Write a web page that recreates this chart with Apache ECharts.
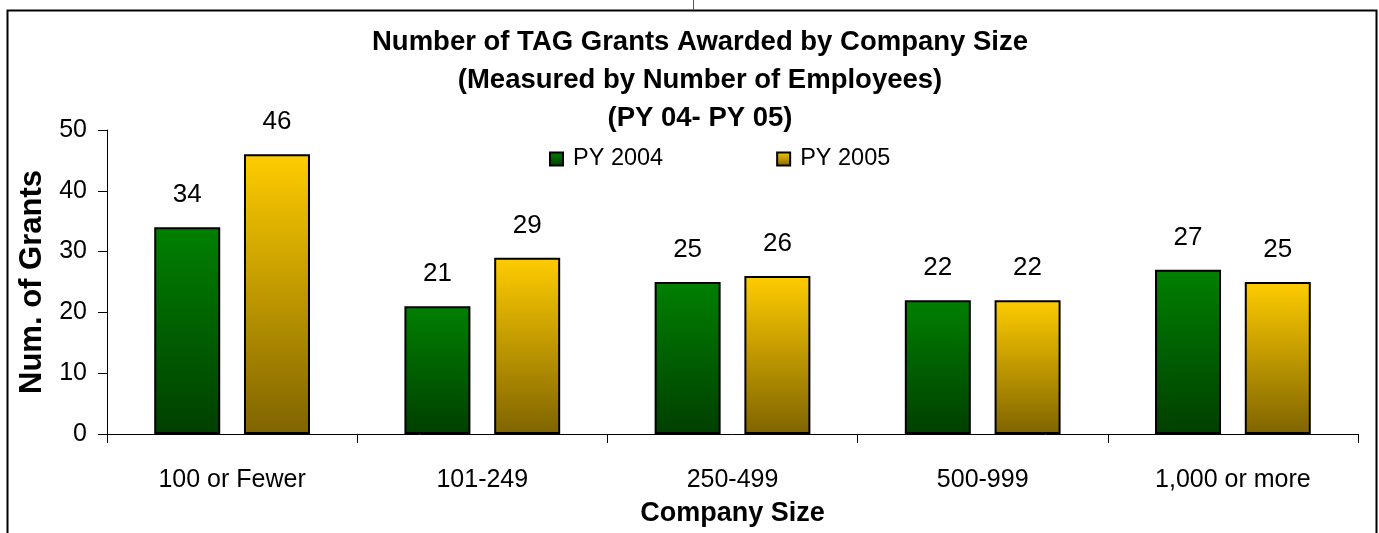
<!DOCTYPE html>
<html>
<head>
<meta charset="utf-8">
<script src="https://cdn.jsdelivr.net/npm/echarts@6/dist/echarts.min.js"></script>
<style>
html,body{margin:0;padding:0;background:#fff;}
#c{width:1379px;height:533px;}
</style>
</head>
<body>
<div id="c"></div>
<script>
var categories = ['100 or Fewer', '101-249', '250-499', '500-999', '1,000 or more'];
var py2004 = [34, 21, 25, 22, 27];
var py2005 = [46, 29, 26, 22, 25];
var seriesNames = ['PY 2004', 'PY 2005'];
var titleText = 'Number of TAG Grants Awarded by Company Size\n(Measured by Number of Employees)\n(PY 04- PY 05)';

var FONT = '"Liberation Sans", Arial, sans-serif';
function grad(top, bottom) {
  return new echarts.graphic.LinearGradient(0, 0, 0, 1, [
    {offset: 0, color: top}, {offset: 1, color: bottom}
  ]);
}
var greenGrad = grad('#008000', '#003f00');
var yellowGrad = grad('#ffcc00', '#7f6400');

var chart = echarts.init(document.getElementById('c'), null, {renderer: 'canvas'});
var labelStyle = {show: true, position: 'top', distance: 19, color: '#000', fontSize: 26, fontFamily: FONT};

chart.setOption({
  animation: false,
  backgroundColor: '#fff',
  title: {
    text: titleText,
    left: 700, textAlign: 'center', top: 23, padding: 0,
    textStyle: {fontFamily: FONT, fontWeight: 'bold', fontSize: 27.5, lineHeight: 38, color: '#000'}
  },
  legend: {
    left: 549, top: 147, padding: 0,
    itemWidth: 13, itemHeight: 13, itemGap: 113,
    icon: 'rect',
    textStyle: {fontFamily: FONT, fontSize: 23.5, color: '#000', padding: [0, 0, 0, 5]},
    data: seriesNames
  },
  grid: {left: 107, right: 21, top: 130, bottom: 99, containLabel: false},
  xAxis: {
    type: 'category', data: categories,
    name: 'Company Size', nameLocation: 'middle', nameGap: 66,
    nameTextStyle: {fontFamily: FONT, fontWeight: 'bold', fontSize: 27, color: '#000'},
    axisLine: {lineStyle: {color: '#000', width: 1}},
    axisTick: {show: true, length: 9, lineStyle: {color: '#000'}},
    axisLabel: {fontFamily: FONT, fontSize: 25, color: '#000', margin: 34}
  },
  yAxis: {
    type: 'value', min: 0, max: 50, interval: 10,
    name: 'Num. of Grants', nameLocation: 'middle', nameGap: 50, nameRotate: 90,
    nameTextStyle: {fontFamily: FONT, fontWeight: 'bold', fontSize: 31, color: '#000'},
    axisLine: {show: true, lineStyle: {color: '#000', width: 1}},
    axisTick: {show: true, length: 9, lineStyle: {color: '#000'}},
    axisLabel: {fontFamily: FONT, fontSize: 25, color: '#000', margin: 20},
    splitLine: {show: false}
  },
  series: [
    {
      name: seriesNames[0], type: 'bar', data: py2004,
      barWidth: 66, barGap: '36%',
      itemStyle: {color: greenGrad, borderColor: '#000', borderWidth: 2},
      label: labelStyle
    },
    {
      name: seriesNames[1], type: 'bar', data: py2005,
      barWidth: 66, barGap: '36%',
      itemStyle: {color: yellowGrad, borderColor: '#000', borderWidth: 2},
      label: labelStyle
    }
  ],
  graphic: [
    {type: 'rect', shape: {x: 7.5, y: 10.5, width: 1369, height: 540}, style: {fill: null, stroke: '#000', lineWidth: 2}, silent: true, z: -1},
    {type: 'line', shape: {x1: 693.5, y1: 0, x2: 693.5, y2: 10}, style: {stroke: '#555', lineWidth: 1}, silent: true}
  ]
});
</script>
</body>
</html>
